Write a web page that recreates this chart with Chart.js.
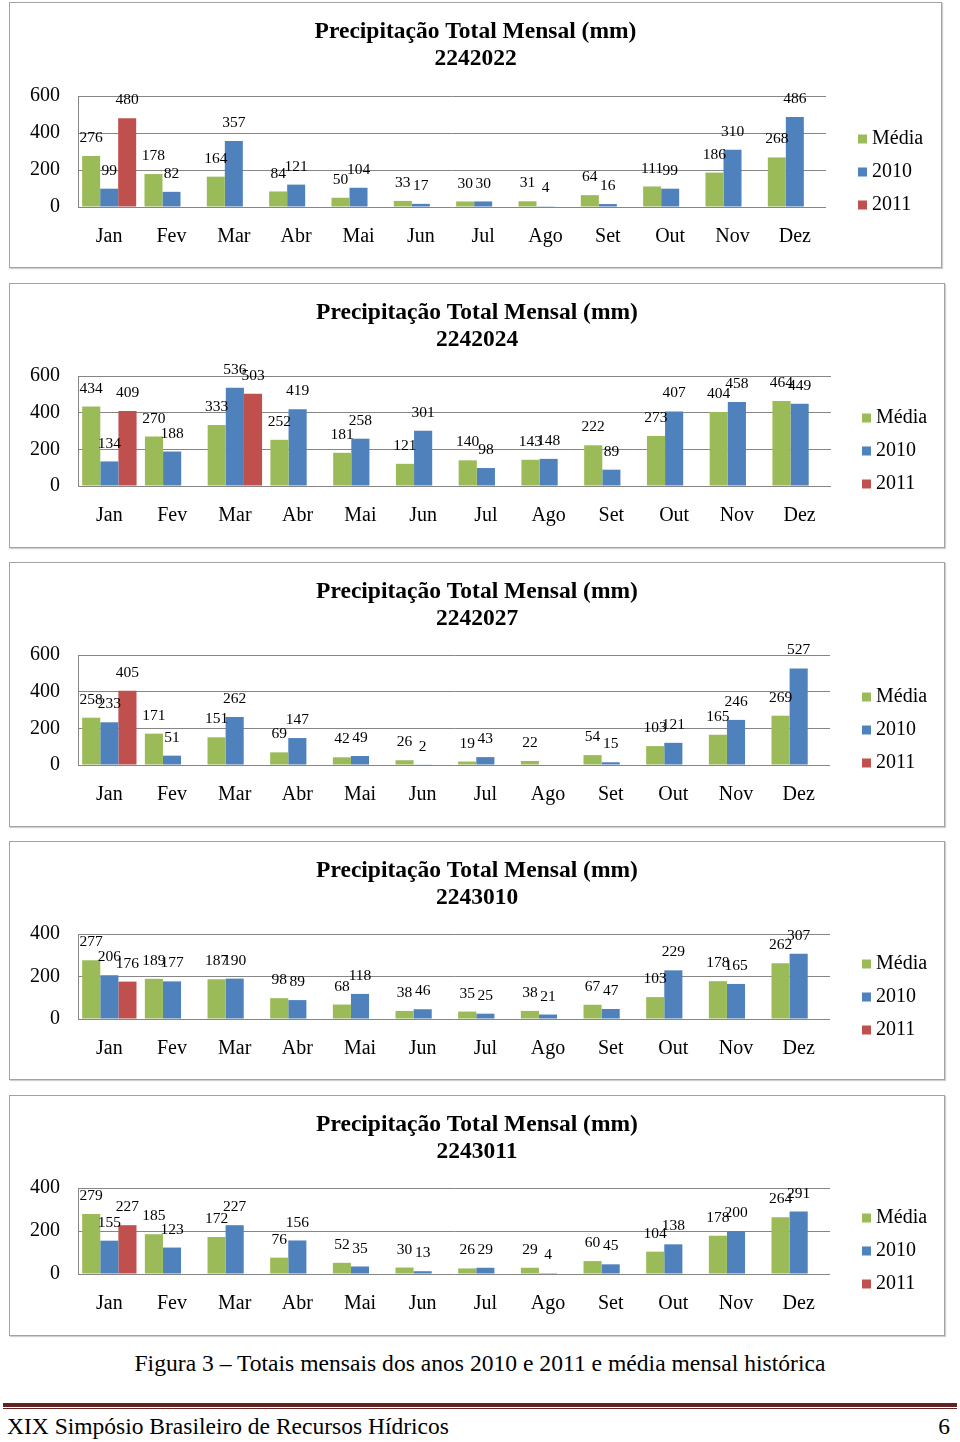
<!DOCTYPE html>
<html lang="pt">
<head>
<meta charset="UTF-8">
<title>Precipitação Total Mensal (mm)</title>
<script src="https://cdn.jsdelivr.net/npm/chart.js"></script>
<style>
 body { margin:0; background:#fff; width:960px; height:1442px; position:relative; overflow:hidden; font-family:"Liberation Serif", "Times New Roman", serif; }
 .box { position:absolute; }
 .box canvas { position:absolute; left:0; top:0; }
 .box::after { content:''; position:absolute; left:0; top:0; right:0; bottom:0; border:1px solid #a3a3a3; box-shadow:1px 1px 1px #d0d0d0; pointer-events:none; }
 #caption { position:absolute; left:0; width:960px; top:1350px; text-align:center; font-size:23.6px; color:#000; }
 #rule1 { position:absolute; left:3px; width:954px; top:1403px; height:4px; background:#622423; }
 #rule2 { position:absolute; left:3px; width:954px; top:1408px; height:1px; background:#622423; }
 #footer { position:absolute; left:7px; top:1413px; font-size:23.5px; color:#000; }
 #page { position:absolute; right:10px; top:1413px; font-size:23.5px; color:#000; }
</style>
</head>
<body>
<div id="charts"></div>
<div id="caption">Figura 3 – Totais mensais dos anos 2010 e 2011 e média mensal histórica</div>
<div id="rule1"></div>
<div id="rule2"></div>
<div id="footer">XIX Simpósio Brasileiro de Recursos Hídricos</div>
<div id="page">6</div>
<script>
// categories and series
const months = ['Jan', 'Fev', 'Mar', 'Abr', 'Mai', 'Jun', 'Jul', 'Ago', 'Set', 'Out', 'Nov', 'Dez'];
const seriesNames = ['Média', '2010', '2011'];
const stations = ['2242022', '2242024', '2242027', '2243010', '2243011'];
const yMax = [600, 600, 600, 400, 400];

const media2242022 = [276, 178, 164, 84, 50, 33, 30, 31, 64, 111, 186, 268];
const y2010_2242022 = [99, 82, 357, 121, 104, 17, 30, 4, 16, 99, 310, 486];
const y2011_2242022 = [480, null, null, null, null, null, null, null, null, null, null, null];

const media2242024 = [434, 270, 333, 252, 181, 121, 140, 143, 222, 273, 404, 464];
const y2010_2242024 = [134, 188, 536, 419, 258, 301, 98, 148, 89, 407, 458, 449];
const y2011_2242024 = [409, null, 503, null, null, null, null, null, null, null, null, null];

const media2242027 = [258, 171, 151, 69, 42, 26, 19, 22, 54, 103, 165, 269];
const y2010_2242027 = [233, 51, 262, 147, 49, 2, 43, null, 15, 121, 246, 527];
const y2011_2242027 = [405, null, null, null, null, null, null, null, null, null, null, null];

const media2243010 = [277, 189, 187, 98, 68, 38, 35, 38, 67, 103, 178, 262];
const y2010_2243010 = [206, 177, 190, 89, 118, 46, 25, 21, 47, 229, 165, 307];
const y2011_2243010 = [176, null, null, null, null, null, null, null, null, null, null, null];

const media2243011 = [279, 185, 172, 76, 52, 30, 26, 29, 60, 104, 178, 264];
const y2010_2243011 = [155, 123, 227, 156, 35, 13, 29, 4, 45, 138, 200, 291];
const y2011_2243011 = [227, null, null, null, null, null, null, null, null, null, null, null];

const seriesByStation = [
  [media2242022, y2010_2242022, y2011_2242022],
  [media2242024, y2010_2242024, y2011_2242024],
  [media2242027, y2010_2242027, y2011_2242027],
  [media2243010, y2010_2243010, y2011_2243010],
  [media2243011, y2010_2243011, y2011_2243011]
];

const colors = ['#9BBB59', '#4F81BD', '#C0504D'];
const serif = '"Liberation Serif", "Times New Roman", serif';

// page placement: box [left, top, width, height], plot [left, top, right, bottom], legend [x, y of first row]
const layouts = [
  { box: [9, 2, 933, 266], plot: [78, 96, 826, 207], legend: [858, 139] },
  { box: [9, 283, 936, 265], plot: [78, 376, 831, 486], legend: [862, 418] },
  { box: [9, 562, 936, 265], plot: [78, 655, 830, 765], legend: [862, 697] },
  { box: [9, 841, 936, 239], plot: [78, 934, 830, 1019], legend: [862, 964] },
  { box: [9, 1095, 936, 241], plot: [78, 1188, 830, 1274], legend: [862, 1218] }
];

// value above each bar
const valueLabels = {
  id: 'valueLabels',
  afterDatasetsDraw(chart) {
    const ctx = chart.ctx;
    ctx.save();
    ctx.font = '15.5px ' + serif;
    ctx.fillStyle = '#000';
    ctx.textAlign = 'center';
    ctx.textBaseline = 'middle';
    chart.data.datasets.forEach((ds, i) => {
      chart.getDatasetMeta(i).data.forEach((bar, j) => {
        const v = ds.data[j];
        if (v == null) return;
        ctx.fillText(String(v), bar.x, bar.y - 18);
      });
    });
    ctx.restore();
  }
};

// legend on the right, Excel style
const sideLegend = {
  id: 'sideLegend',
  afterDraw(chart, args, opts) {
    const ctx = chart.ctx;
    ctx.save();
    ctx.font = '20px ' + serif;
    ctx.textAlign = 'left';
    ctx.textBaseline = 'middle';
    chart.data.datasets.forEach((ds, i) => {
      const y = opts.y + i * 33;
      ctx.fillStyle = ds.backgroundColor;
      ctx.fillRect(opts.x, y - 4.5, 9, 9);
      ctx.fillStyle = '#000';
      ctx.fillText(ds.label, opts.x + 14, y);
    });
    ctx.restore();
  }
};

const holder = document.getElementById('charts');

stations.forEach((st, k) => {
  const L = layouts[k];
  const [bx, by, bw, bh] = L.box;
  const [pl, pt, pr, pb] = L.plot;

  const div = document.createElement('div');
  div.className = 'box';
  div.style.left = bx + 'px';
  div.style.top = by + 'px';
  div.style.width = bw + 'px';
  div.style.height = bh + 'px';
  const canvas = document.createElement('canvas');
  canvas.width = bw;
  canvas.height = bh;
  canvas.style.width = bw + 'px';
  canvas.style.height = bh + 'px';
  div.appendChild(canvas);
  holder.appendChild(div);

  const leftW = pl - bx;
  const rightW = bw - (pr - bx);
  const xAxisH = 50;
  const titleTop = 16.5;
  const titleBottom = (pt - by) - titleTop - 54;
  const padBottom = bh - (pb - by) - xAxisH;

  new Chart(canvas, {
    type: 'bar',
    data: {
      labels: months,
      datasets: seriesNames.map((name, i) => ({
        label: name,
        data: seriesByStation[k][i],
        backgroundColor: colors[i],
        borderWidth: 0,
        categoryPercentage: 0.867,
        barPercentage: 1
      }))
    },
    options: {
      responsive: false,
      animation: false,
      events: [],
      layout: { padding: { left: 0, right: 0, top: 0, bottom: padBottom } },
      scales: {
        x: {
          grid: { display: false, drawTicks: false },
          border: { display: false },
          ticks: { color: '#000', padding: 18, font: { family: serif, size: 20 } },
          afterFit(s) { s.height = xAxisH; }
        },
        y: {
          min: 0,
          max: yMax[k],
          ticks: { stepSize: 200, color: '#000', padding: 18, font: { family: serif, size: 20 } },
          grid: { color: '#868686', lineWidth: 1, drawTicks: false },
          border: { display: true, color: '#868686', width: 1 },
          afterFit(s) { s.width = leftW; }
        },
        spacer: {
          position: 'right',
          display: true,
          grid: { display: false, drawTicks: false },
          border: { display: false },
          ticks: { display: false },
          afterFit(s) { s.width = rightW; }
        }
      },
      plugins: {
        legend: { display: false },
        tooltip: { enabled: false },
        title: {
          display: true,
          text: ['Precipitação Total Mensal (mm)', st],
          color: '#000',
          font: { family: serif, size: 23.5, weight: 'bold', lineHeight: '27px' },
          padding: { top: titleTop, bottom: titleBottom }
        },
        sideLegend: { x: L.legend[0] - bx, y: L.legend[1] - by }
      }
    },
    plugins: [valueLabels, sideLegend]
  });
});
</script>
</body>
</html>
